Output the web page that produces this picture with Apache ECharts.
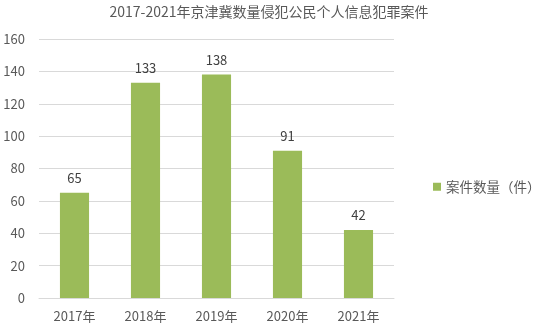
<!DOCTYPE html>
<html><head><meta charset="utf-8">
<script src="https://cdn.jsdelivr.net/npm/echarts@6/dist/echarts.min.js"></script>
<style>html,body{margin:0;padding:0;background:#fff}#c{width:539px;height:330px}</style>
</head><body><div id="c"></div>
<script>
const categories = ['2017年','2018年','2019年','2020年','2021年'];
const values = [65,133,138,91,42];
const seriesName = '案件数量（件）';
const titleText = '2017-2021年京津冀数量侵犯公民个人信息犯罪案件';
const font = '"Noto Sans CJK SC", "Noto Sans", sans-serif';
const chart = echarts.init(document.getElementById('c'), null, {renderer:'canvas'});
chart.setOption({
  animation:false,
  backgroundColor:'#fff',
  title:{text:titleText,left:264,top:0,textAlign:'center',textStyle:{fontFamily:font,fontSize:14,fontWeight:'normal',color:'#595959'}},
  legend:{orient:'vertical',left:428,top:175,itemWidth:8,itemHeight:8,itemGap:4,icon:'rect',textStyle:{fontFamily:font,fontSize:13.5,color:'#595959'},data:[seriesName]},
  grid:{left:39,right:145,top:39,bottom:32,containLabel:false},
  xAxis:{type:'category',data:categories,axisTick:{show:false},axisLine:{lineStyle:{color:'#d9d9d9'}},axisLabel:{fontFamily:font,fontSize:13,color:'#595959',margin:12}},
  yAxis:{type:'value',min:0,max:160,interval:20,axisLine:{show:false},axisTick:{show:false},splitLine:{lineStyle:{color:'#d9d9d9'}},axisLabel:{fontFamily:font,fontSize:13,color:'#595959',margin:14}},
  series:[{name:seriesName,type:'bar',data:values,barWidth:'41%',itemStyle:{color:'#9BBB59'},label:{show:true,position:'top',distance:8,fontFamily:font,fontSize:13,color:'#404040'}}]
});
</script></body></html>
